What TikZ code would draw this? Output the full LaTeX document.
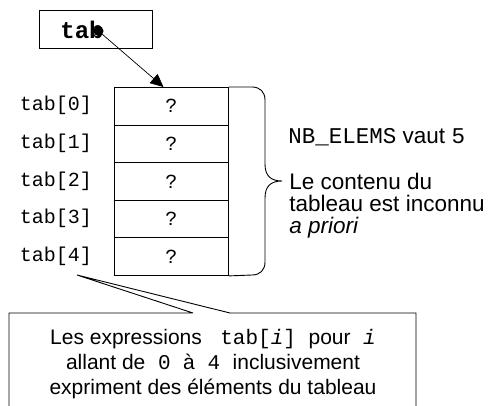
\documentclass[tikz,border=0pt]{standalone}
\usepackage{fontspec}
\setmainfont{Liberation Sans}
\setmonofont{Liberation Mono}
\usetikzlibrary{arrows.meta}
\newcommand\sansfnt{\fontsize{21}{25}\selectfont\rmfamily}
\newcommand\bigsansfnt{\fontsize{22.5}{25}\selectfont\rmfamily}
\newcommand\codefnt{\fontsize{20}{24}\selectfont\ttfamily}
\begin{document}
\begin{tikzpicture}[x=1pt,y=-1pt,line width=0.9pt,
  cell/.style={draw, minimum width=114pt, minimum height=37.6pt, inner sep=0pt, anchor=north west, font=\codefnt},
  lbl/.style={inner sep=0pt, font=\codefnt},
  txt/.style={inner sep=0pt, font=\bigsansfnt, anchor=base west},
  ctxt/.style={inner sep=0pt, font=\sansfnt, anchor=base},
  ptr/.style={-{Triangle[length=13pt,width=12pt]}, line width=0.7pt}]
\useasboundingbox (0,0) rectangle (489,405);
\clip (0,0) rectangle (489,405);
% pointer variable box
\node[draw, minimum width=113pt, minimum height=37.6pt, inner sep=0pt] (tabbox) at (95.5,29.5) {};
\node[inner sep=0pt, font=\fontsize{24}{28}\selectfont\ttfamily\bfseries] (tabname) at (82,30) {tab};
\node[circle, fill, inner sep=0pt, minimum size=10pt] (dot) at (98.5,31) {};
% array cells and labels
\foreach \i in {0,...,4}{
  \node[cell] (c\i) at (114,{87+37.6*\i}) {?};
  \node[lbl] (l\i) at (56,{105.8+37.6*\i}) {tab[\i]};
}
\draw[ptr] (dot.center) -- ([xshift=-8pt]c0.north);
% brace
\coordinate (tip) at (282,181);
\draw (c0.north east) -- (252,87) .. controls (260,87) and (265,92) .. (265,100)
  -- (265,164) .. controls (265,176) and (271,181) .. (tip)
  .. controls (271,181) and (265,186) .. (265,198)
  -- (265,262) .. controls (265,270) and (260,275) .. (252,275) -- (c4.south east);
% right texts
\node[txt] (nb) at (288,143) {\texttt{NB\_ELEMS} vaut \texttt{5}};
\node[txt] (t1) at (289,189) {Le contenu du};
\node[txt] (t2) at (289,211) {tableau est inconnu};
\node[txt] (t3) at (289,233) {\textit{a priori}};
% callout
\coordinate (apex) at (77,275);
\coordinate (pa) at (193,313);
\coordinate (pb) at (230,313);
\draw (pa) -- (apex) -- (pb) -- (416,313) -- (416,420) -- (9,420) -- (9,313) -- (pa);
\node[ctxt] (k1) at (213,344) {Les expressions \texttt{ tab[\textit{i}] }pour\texttt{ \textit{i}}};
\node[ctxt] (k2) at (213,369) {allant de\texttt{ 0 }à\texttt{ 4 }inclusivement};
\node[ctxt] (k3) at (213,394) {expriment des éléments du tableau};
\end{tikzpicture}
\end{document}
